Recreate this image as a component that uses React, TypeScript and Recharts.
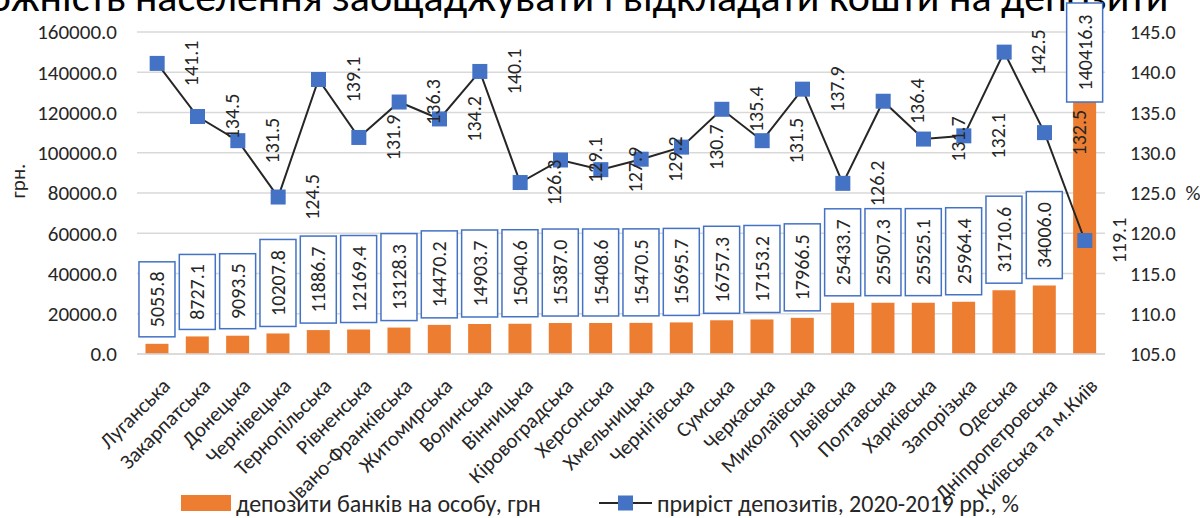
import { ComposedChart, Bar, Line, XAxis, YAxis, CartesianGrid, LabelList, Legend } from 'recharts';

const regions = [
  'Луганська', 'Закарпатська', 'Донецька', 'Чернівецька', 'Тернопільська', 'Рівненська',
  'Івано-Франківська', 'Житомирська', 'Волинська', 'Вінницька', 'Кіровоградська', 'Херсонська',
  'Хмельницька', 'Чернігівська', 'Сумська', 'Черкаська', 'Миколаївська', 'Львівська',
  'Полтавська', 'Харківська', 'Запорізька', 'Одеська', 'Дніпропетровська', 'Київська та м.Київ',
];

const depositsPerPerson = [
  5055.8, 8727.1, 9093.5, 10207.8, 11886.7, 12169.4, 13128.3, 14470.2, 14903.7, 15040.6, 15387.0, 15408.6,
  15470.5, 15695.7, 16757.3, 17153.2, 17966.5, 25433.7, 25507.3, 25525.1, 25964.4, 31710.6, 34006.0, 140416.3,
];

const depositGrowth = [
  141.1, 134.5, 131.5, 124.5, 139.1, 131.9, 136.3, 134.2, 140.1, 126.3, 129.1, 127.9,
  129.2, 130.7, 135.4, 131.5, 137.9, 126.2, 136.4, 131.7, 132.1, 142.5, 132.5, 119.1,
];

const leftTicks = [0, 20000, 40000, 60000, 80000, 100000, 120000, 140000, 160000];
const rightTicks = [105, 110, 115, 120, 125, 130, 135, 140, 145];

const data = regions.map((name, i) => ({
  name,
  deposits: depositsPerPerson[i],
  growth: depositGrowth[i],
}));

const FONT = "Carlito, Lato, 'Open Sans', sans-serif";
const ORANGE = '#ED7D31';
const BLUE = '#4472C4';
const INK = '#262626';

const BarLabel = (props: any) => {
  const { x, y, width, value } = props;
  const text = Number(value).toFixed(1);
  const h = text.length * 12 + 3;
  const w = 36;
  let top = y - 7 - h;
  if (top < 3) top = 3;
  const cx = x + width / 2;
  const cy = top + h / 2;
  return (
    <g>
      <rect x={cx - w / 2} y={top} width={w} height={h} fill="#fff" stroke={BLUE} strokeWidth={1.5} />
      <text
        transform={`translate(${cx},${cy}) rotate(-90)`}
        textAnchor="middle"
        dominantBaseline="central"
        fontSize={20}
        fill={INK}
        fontFamily={FONT}
      >
        {text}
      </text>
    </g>
  );
};

const LineLabel = (props: any) => {
  const { x, y, value } = props;
  return (
    <text
      transform={`translate(${x + 34},${y}) rotate(-90)`}
      textAnchor="middle"
      dominantBaseline="central"
      fontSize={20}
      fill={INK}
      fontFamily={FONT}
    >
      {Number(value).toFixed(1)}
    </text>
  );
};

const SquareDot = (props: any) => {
  const { cx, cy, index } = props;
  return <rect key={`dot-${index}`} x={cx - 7.5} y={cy - 7.5} width={15} height={15} fill={BLUE} />;
};

const RegionTick = (props: any) => {
  const { x, y, payload } = props;
  return (
    <text
      transform={`translate(${x + 3},${y + 14}) rotate(-45)`}
      textAnchor="end"
      dy="0.75em"
      fontSize={21}
      fill={INK}
      fontFamily={FONT}
    >
      {payload.value}
    </text>
  );
};

const renderLegend = (props: any) => {
  const { payload } = props;
  return (
    <div style={{ display: 'flex', justifyContent: 'center', alignItems: 'center', gap: 58, height: 30, fontSize: 24, color: INK, fontFamily: FONT }}>
      {payload.map((entry: any) => (
        <div key={entry.value} style={{ display: 'flex', alignItems: 'center' }}>
          {entry.type === 'rect' ? (
            <span style={{ display: 'inline-block', width: 50, height: 16, background: ORANGE, marginRight: 5 }} />
          ) : (
            <svg width={53} height={18} style={{ marginRight: 5 }}>
              <line x1={0} y1={9} x2={53} y2={9} stroke={INK} strokeWidth={2} />
              <rect x={19} y={1.5} width={15} height={15} fill={BLUE} />
            </svg>
          )}
          <span>{entry.value}</span>
        </div>
      ))}
    </div>
  );
};

const LeftAxisLabel = (props: any) => {
  const { viewBox } = props;
  return (
    <text
      transform={`translate(${18},${viewBox.y + viewBox.height / 2 - 12}) rotate(-90)`}
      textAnchor="middle"
      dominantBaseline="central"
      fontSize={21}
      fill={INK}
      fontFamily={FONT}
    >
      грн.
    </text>
  );
};

const RightAxisLabel = (props: any) => {
  const { viewBox } = props;
  return (
    <text
      x={viewBox.x + viewBox.width - 7}
      y={viewBox.y + viewBox.height / 2}
      textAnchor="middle"
      dominantBaseline="central"
      fontSize={21}
      fill={INK}
      fontFamily={FONT}
    >
      %
    </text>
  );
};

export default function App() {
  return (
    <div style={{ position: 'relative', width: 1200, height: 518, overflow: 'hidden', background: '#fff', fontFamily: FONT }}>
      <style>{'body{margin:0}'}</style>
      <div
        style={{
          position: 'absolute',
          top: -24,
          left: -128,
          whiteSpace: 'nowrap',
          fontSize: 42,
          lineHeight: '42px',
          color: '#000',
        }}
      >
        Спроможність населення заощаджувати і відкладати кошти на депозити
      </div>
      <ComposedChart width={1200} height={518} data={data} margin={{ top: 32, right: 0, left: 0, bottom: 0 }} barCategoryGap="21%">
        <CartesianGrid vertical={false} stroke="#D9D9D9" strokeWidth={1.5} yAxisId="left" />
        <XAxis
          dataKey="name"
          interval={0}
          height={134}
          tick={<RegionTick />}
          tickLine={false}
          axisLine={{ stroke: '#D9D9D9', strokeWidth: 1.5 }}
        />
        <YAxis
          yAxisId="left"
          width={137}
          domain={[0, 160000]}
          ticks={leftTicks}
          tickFormatter={(v: number) => v.toFixed(1)}
          tick={{ fontSize: 21, fill: INK, fontFamily: FONT }}
          tickLine={false}
          tickSize={0}
          tickMargin={20}
          axisLine={false}
          label={<LeftAxisLabel />}
        />
        <YAxis
          yAxisId="right"
          orientation="right"
          width={95}
          domain={[105, 145]}
          ticks={rightTicks}
          tickFormatter={(v: number) => v.toFixed(1)}
          tick={{ fontSize: 20, fill: INK, fontFamily: FONT }}
          tickLine={false}
          tickSize={0}
          tickMargin={25}
          axisLine={false}
          label={<RightAxisLabel />}
        />
        <Legend verticalAlign="bottom" height={30} content={renderLegend} wrapperStyle={{ left: 0, width: 1200 }} />
        <Bar yAxisId="left" dataKey="deposits" name="депозити банків на особу, грн" fill={ORANGE} isAnimationActive={false} legendType="rect">
          <LabelList dataKey="deposits" content={<BarLabel />} />
        </Bar>
        <Line
          yAxisId="right"
          dataKey="growth"
          name="приріст депозитів, 2020-2019 рр., %"
          stroke={INK}
          strokeWidth={2}
          dot={<SquareDot />}
          activeDot={false}
          isAnimationActive={false}
          legendType="square"
        >
          <LabelList dataKey="growth" content={<LineLabel />} />
        </Line>
      </ComposedChart>
    </div>
  );
}
